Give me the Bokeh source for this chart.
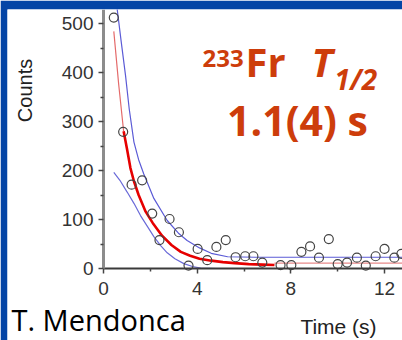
import math
from bokeh.plotting import figure
from bokeh.models import Range1d, FixedTicker, Label, ColumnDataSource
from bokeh.embed import file_html
from bokeh.resources import INLINE

# ---------------- data ----------------
point_time = [0.44, 0.84, 1.2, 1.65, 2.08, 2.39, 2.82, 3.22, 3.63, 4.02, 4.43,
              4.82, 5.22, 5.64, 6.05, 6.4, 6.78, 7.56, 8.02, 8.45, 8.82, 9.2,
              9.62, 10.0, 10.4, 10.82, 11.2, 11.62, 12.0, 12.42, 12.72]
point_counts = [512, 279, 171, 180, 112, 58, 101, 74, 6, 40, 17,
                44, 58, 23, 25, 25, 12, 7, 7, 34, 45, 22,
                60, 9, 12, 22, 6, 25, 40, 22, 30]

fit_time = [0.86, 1.0, 1.15, 1.3, 1.5, 1.8, 2.1, 2.5, 2.9, 3.3, 3.7, 4.1,
            4.6, 5.1, 5.6, 6.2, 6.8, 7.3]
fit_counts = [280, 245, 205, 178, 150, 116, 93, 67, 48, 34, 26, 20,
              16, 13, 11, 9, 8, 7]

extrap_early_time = [0.44, 0.65, 0.86]
extrap_early_counts = [484, 375, 280]
extrap_late_time = [7.3, 12.8]
extrap_late_counts = [11, 11]

upper_time = [0.45, 0.58, 0.75, 0.94, 1.1, 1.3, 1.5, 1.72, 2.15, 2.72, 3.2,
              3.57, 4.1, 4.6, 5.3, 6.5, 12.8]
upper_counts = [585, 531, 465, 394, 325, 258, 222, 193, 143, 98, 72,
                57, 42, 31, 24, 23, 23]

lower_time = [0.44, 0.7, 1.01, 1.3, 1.58, 1.9, 2.15, 2.45, 2.72, 3.05, 3.43,
              3.8, 4.15, 4.8, 5.5]
lower_counts = [196, 180, 156, 133, 108, 84, 65, 46, 32, 20, 10,
                4, 1, 0, 0]

x_ticks = [0, 4, 8, 12]
x_minor = [2, 6, 10]
y_ticks = [0, 100, 200, 300, 400, 500]
y_minor = [50, 150, 250, 350, 450]

# ---------------- styling ----------------
BLUE = "#0445a6"
ORANGE = "#cd3d0b"
PX_PER_S = 23.42
PX_PER_C = 0.49
X0_PX, Y0_PX = 103, 268          # page pixel of (0, 0)


def sx(px):
    return (px - X0_PX) / PX_PER_S


def sy(py):
    return (Y0_PX - py) / PX_PER_C


p = figure(width=402, height=340, output_backend="svg", toolbar_location=None,
           x_range=Range1d(sx(7), sx(402)), y_range=Range1d(sy(340), sy(9)),
           min_border_left=7, min_border_right=0, min_border_top=9,
           min_border_bottom=0)
p.outline_line_color = None
p.background_fill_color = "white"
p.border_fill_color = BLUE
p.grid.visible = False

xa = p.xaxis[0]
xa.ticker = FixedTicker(ticks=x_ticks, minor_ticks=x_minor)
ya = p.yaxis[0]
ya.ticker = FixedTicker(ticks=y_ticks, minor_ticks=y_minor)
xa.fixed_location = 0
ya.fixed_location = 0
xa.bounds = (0, sx(402))
ya.bounds = (0, sy(9))
for ax in (xa, ya):
    ax.major_tick_in = 0
    ax.major_tick_out = 5
    ax.minor_tick_in = 0
    ax.minor_tick_out = 3
    ax.major_label_text_font = "Liberation Sans"
    ax.major_label_text_font_size = "19px"
    ax.major_label_text_color = "#333333"
    ax.major_tick_line_color = "#444444"
    ax.minor_tick_line_color = "#444444"
    ax.major_tick_line_width = 1.5
    ax.minor_tick_line_width = 1.5
xa.axis_line_color = "#3a3a3a"
xa.axis_line_width = 2
ya.axis_line_color = "#8c8c8c"
ya.axis_line_width = 3
xa.major_label_standoff = 8
ya.major_label_standoff = 5

# confidence band lines
p.line(upper_time, upper_counts, line_color="#5b5bd6", line_width=1.2)
p.line(lower_time, lower_counts, line_color="#6a6ad8", line_width=1.2)
# extrapolated fit (thin) and fitted region (thick)
p.line(extrap_early_time, extrap_early_counts, line_color="#e46a6a", line_width=1.2)
p.line(extrap_late_time, extrap_late_counts, line_color="#e88a8a", line_width=1.2)
p.line(fit_time, fit_counts, line_color="#e60000", line_width=2.6)
# data points
src = ColumnDataSource(dict(t=point_time, c=point_counts))
p.scatter("t", "c", source=src, marker="circle", size=9, fill_alpha=0,
          line_color="#444444", line_width=1.2)

# ---------------- texts ----------------
def lab(text, px, py, size, font="Open Sans", style="normal", color="black",
        align="left", angle=0.0):
    p.add_layout(Label(x=sx(px), y=sy(py), text=text, text_font=font,
                       text_font_size=f"{size}px", text_font_style=style,
                       text_color=color, text_align=align, angle=angle,
                       text_baseline="middle"))

lab("Counts", 24, 90, 20, font="Liberation Sans", color="#222222",
    align="center", angle=math.pi / 2)
lab("Time (s)", 338, 326, 21, font="Liberation Sans", color="#222222",
    align="center")
lab("T. Mendonca", 11, 319, 29)
lab("233", 202, 58, 24, style="bold", color=ORANGE)
lab("Fr", 245, 61, 40, style="bold", color=ORANGE)
lab("T", 311, 61, 40, style="bold italic", color=ORANGE)
lab("1/2", 334, 78, 28, style="bold italic", color=ORANGE)
lab("1.1(4) s", 297, 119, 41, style="bold", color=ORANGE, align="center")

open("out.html", "w").write(file_html(p, INLINE))
